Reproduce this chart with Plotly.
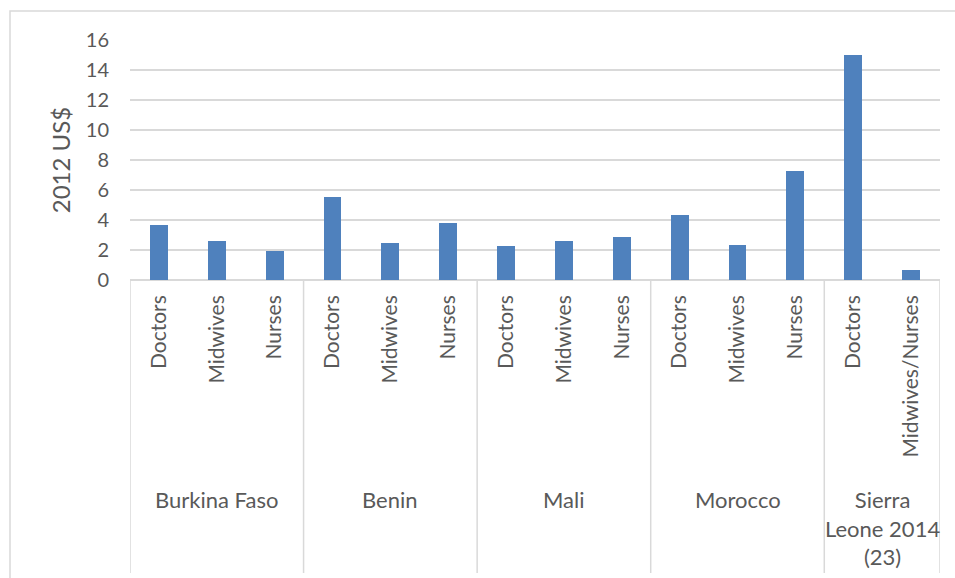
import plotly.graph_objects as go

# Salary cost per health worker, grouped by country
countries = ["Burkina Faso", "Benin", "Mali", "Morocco", "Sierra<br>Leone 2014<br>(23)"]
cadres = [
    ["Doctors", "Midwives", "Nurses"],
    ["Doctors", "Midwives", "Nurses"],
    ["Doctors", "Midwives", "Nurses"],
    ["Doctors", "Midwives", "Nurses"],
    ["Doctors", "Midwives/Nurses"],
]
values = [
    [3.7, 2.6, 1.95],
    [5.55, 2.45, 3.8],
    [2.25, 2.6, 2.9],
    [4.35, 2.35, 7.25],
    [15.0, 0.65],
]
y_ticks = [0, 2, 4, 6, 8, 10, 12, 14, 16]

BAR = "#4F81BD"
GRID = "#D9D9D9"
TEXT = "#595959"
FONT = "Lato"

# flatten the two-level categories onto one numeric axis
labels, ys, xs = [], [], []
bounds = [-0.5]
for grp_cadres, grp_vals in zip(cadres, values):
    for c, v in zip(grp_cadres, grp_vals):
        xs.append(len(labels))
        labels.append(c)
        ys.append(v)
    bounds.append(len(labels) - 0.5)

fig = go.Figure(
    go.Bar(x=xs, y=ys, width=0.31, marker=dict(color=BAR, line=dict(width=0)))
)

# plot area geometry in pixels (for the paper-space lines below the axis)
plot_left, plot_right, plot_top, plot_bottom = 130, 940, 40, 280
ph = plot_bottom - plot_top
pw = plot_right - plot_left


def py(pix):
    return (plot_bottom - pix) / ph


def px(pix):
    return (pix - plot_left) / pw


shapes = []
# group separators in the category area
for b in bounds:
    shapes.append(dict(type="line", xref="x", yref="paper", x0=b, x1=b,
                       y0=0, y1=py(573), line=dict(color=GRID, width=1.5)))
# chart frame
shapes.append(dict(type="rect", xref="paper", yref="paper",
                   x0=px(10), x1=px(960), y0=py(11), y1=py(590),
                   line=dict(color=GRID, width=1.5), fillcolor="rgba(0,0,0,0)",
                   layer="below"))

annotations = []
start = 0
for name, grp_cadres in zip(countries, cadres):
    center = start + (len(grp_cadres) - 1) / 2
    annotations.append(dict(x=center, xref="x", y=py(484), yref="paper",
                            text=name, showarrow=False, yanchor="top",
                            xanchor="center", align="center",
                            font=dict(family=FONT, size=22, color=TEXT)))
    start += len(grp_cadres)

fig.update_layout(
    width=955, height=578,
    margin=dict(l=plot_left, r=955 - plot_right, t=plot_top, b=578 - plot_bottom),
    paper_bgcolor="white", plot_bgcolor="white",
    showlegend=False,
    shapes=shapes,
    annotations=annotations,
    font=dict(family=FONT, color=TEXT),
    bargap=0,
)
fig.update_xaxes(
    range=[bounds[0], bounds[-1]],
    tickmode="array", tickvals=xs, ticktext=labels, tickangle=-90,
    tickfont=dict(family=FONT, size=21, color=TEXT),
    showgrid=False, showline=False, zeroline=False, ticks="",
    ticklabelstandoff=10,
)
fig.update_yaxes(
    range=[0, 16], tickmode="array", tickvals=y_ticks,
    tickfont=dict(family=FONT, size=20, color=TEXT),
    showgrid=True, gridcolor=GRID, gridwidth=1.5,
    zeroline=True, zerolinecolor=GRID, zerolinewidth=1.5,
    showline=False, ticks="", ticklabelstandoff=20,
    title=dict(text="2012 US$", font=dict(family=FONT, size=24, color=TEXT),
               standoff=8),
)

fig.write_html("out.html")
